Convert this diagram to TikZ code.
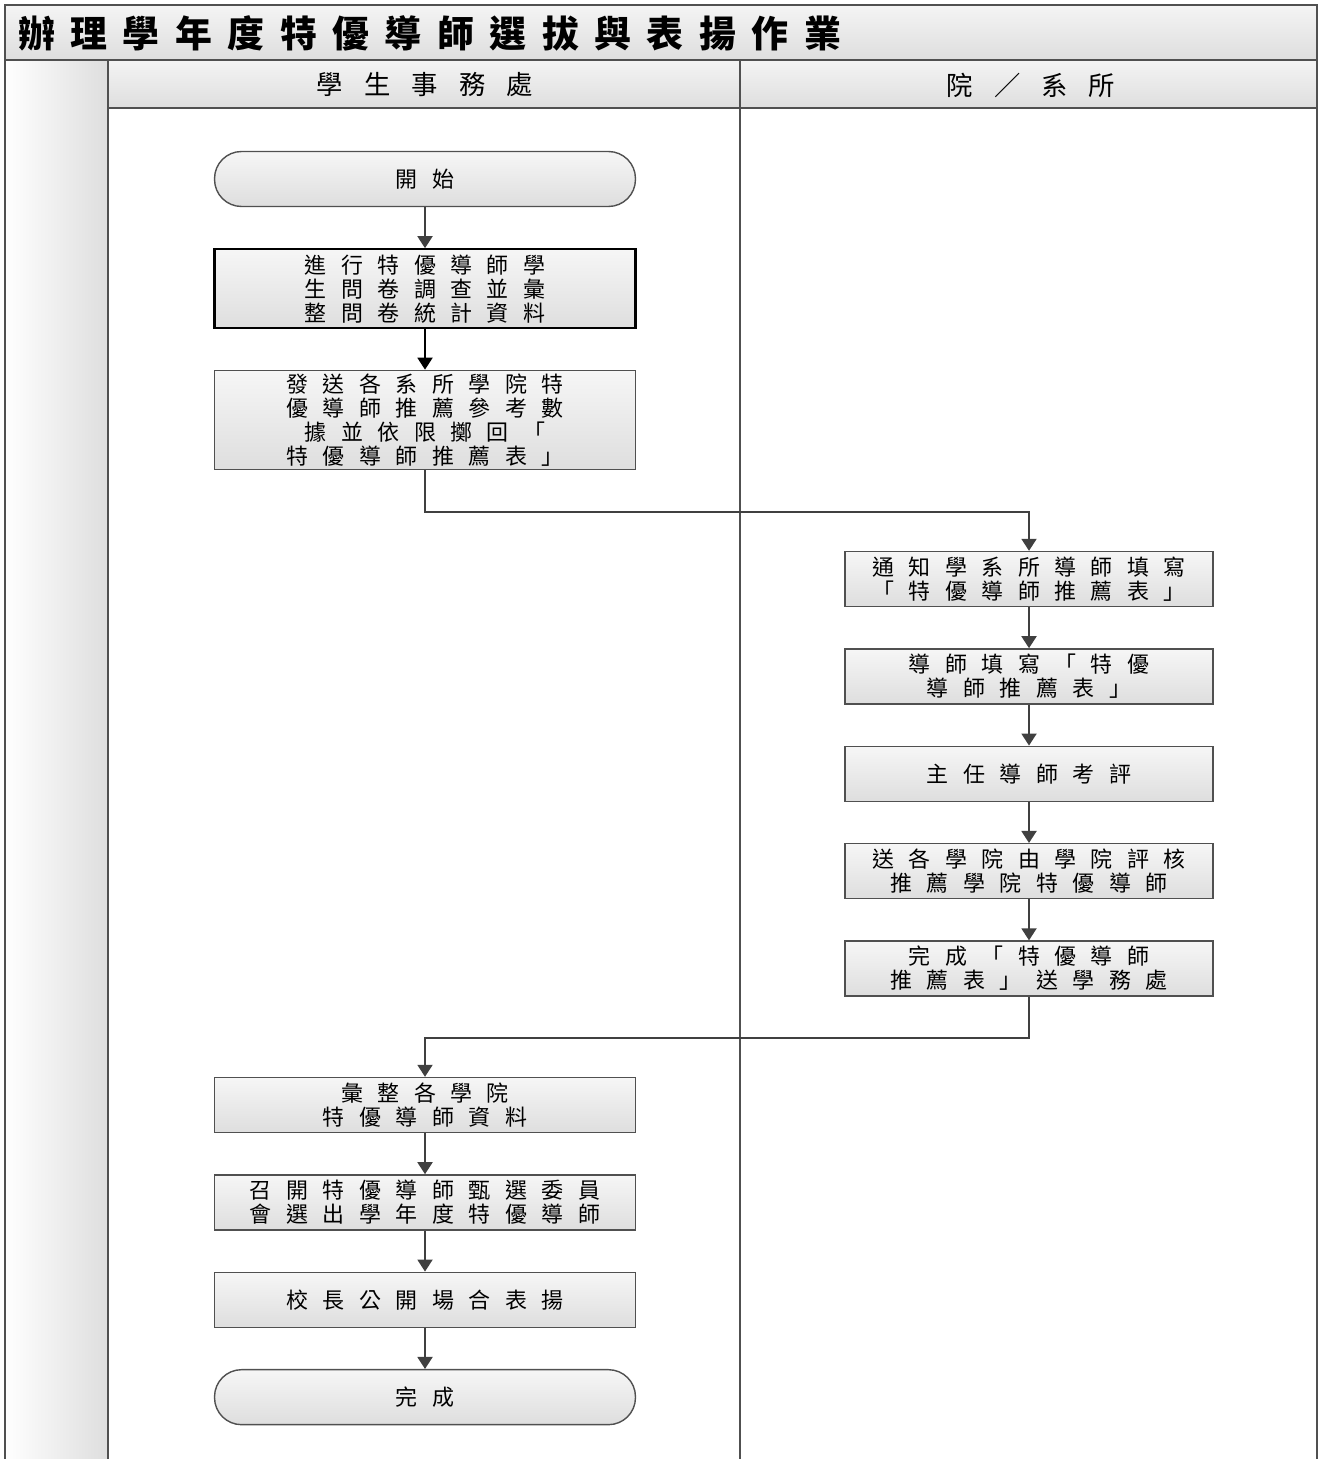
\documentclass[tikz,border=0pt]{standalone}
\usepackage{fontspec}
\setmainfont{Noto Sans CJK TC}
\newfontfamily\boxfont[LetterSpace=66]{Noto Sans CJK TC}
\newfontfamily\headfont[LetterSpace=80]{Noto Sans CJK TC}
\newfontfamily\titlefont[LetterSpace=42]{Noto Sans CJK TC}
\usepackage{tikz}
\usetikzlibrary{arrows.meta, positioning}
\definecolor{framecol}{RGB}{80, 80, 80}
\definecolor{linecol}{RGB}{64, 64, 64}
\definecolor{boxtop}{RGB}{246, 246, 246}
\definecolor{boxbot}{RGB}{222, 222, 222}
\definecolor{lanetop}{RGB}{244, 244, 244}
\definecolor{lanebot}{RGB}{222, 222, 222}

\begin{document}
\begin{tikzpicture}[
        x=0.02cm, y=-0.02cm,
        node distance=0.82cm,
        box/.style={rectangle, draw=framecol, line width=0.8pt, top color=boxtop, bottom color=boxbot, align=center, minimum width=8.42cm, minimum height=1.1cm, inner sep=2pt, font=\boxfont\fontsize{12.5}{13.6}\selectfont},
        rbox/.style={box, minimum width=7.36cm},
        term/.style={box, rounded corners=0.54cm},
        lanehead/.style={font=\headfont\fontsize{15}{16}\selectfont},
        arrow/.style={-{Triangle[length=0.24cm, width=0.3cm]}, line width=1.1pt, draw=linecol}
    ]
    \useasboundingbox (0,0) rectangle (1320,1459);

    % Swimlane frame
    \shade[left color=white, right color=lanebot] (5,60) rectangle (108,1459);
    \draw[draw=framecol, line width=1.2pt, top color=lanetop, bottom color=lanebot] (5,5) rectangle (1317,60);
    \draw[draw=framecol, line width=1.2pt, top color=lanetop, bottom color=lanebot] (108,60) rectangle (740,108);
    \draw[draw=framecol, line width=1.2pt, top color=lanetop, bottom color=lanebot] (740,60) rectangle (1317,108);
    \draw[framecol, line width=1.2pt] (5,60) -- (5,1459);
    \draw[framecol, line width=1.2pt] (108,108) -- (108,1459);
    \draw[framecol, line width=1.2pt] (740,108) -- (740,1459);
    \draw[framecol, line width=1.2pt] (1317,108) -- (1317,1459);

    \node[anchor=west, font=\titlefont\bfseries\fontsize{21}{23}\selectfont] (title) at (12,33) {辦理學年度特優導師選拔與表揚作業};
    \node[lanehead] (osa) at (425,85) {學生事務處};
    \node[lanehead] (dept) at (1031,85) {院／系所};

    % Student affairs lane
    \node[term] (start) at (425,179) {開始};
    \node[box, below=of start, minimum height=1.58cm, draw=black, line width=1.3pt] (survey) {進行特優導師學\\生問卷調查並彙\\整問卷統計資料};
    \node[box, minimum height=1.94cm] (sendref) at (425,420) {發送各系所學院特\\優導師推薦參考數\\據並依限擲回「\\特優導師推薦表」};

    % College / department lane
    \node[rbox] (notify) at (1029,579) {通知學系所導師填寫\\「特優導師推薦表」};
    \node[rbox, below=of notify] (fillform) {導師填寫「特優\\導師推薦表」};
    \node[rbox, below=of fillform] (review) {主任導師考評};
    \node[rbox, below=of review] (college) {送各學院由學院評核\\推薦學院特優導師};
    \node[rbox, below=of college] (submit) {完成「特優導師\\推薦表」送學務處};

    % Back to student affairs
    \node[box] (collect) at (425,1105) {彙整各學院\\特優導師資料};
    \node[box, below=of collect] (committee) {召開特優導師甄選委員\\會選出學年度特優導師};
    \node[box, below=of committee] (praise) {校長公開場合表揚};
    \node[term, below=of praise] (finish) {完成};

    % Arrows
    \draw[arrow] (start) -- (survey);
    \draw[arrow, draw=black] (survey) -- (sendref);
    \draw[arrow] (sendref.south) -- ++(0,42) -| (notify.north);
    \draw[arrow] (notify) -- (fillform);
    \draw[arrow] (fillform) -- (review);
    \draw[arrow] (review) -- (college);
    \draw[arrow] (college) -- (submit);
    \draw[arrow] (submit.south) -- ++(0,41) -| (collect.north);
    \draw[arrow] (collect) -- (committee);
    \draw[arrow] (committee) -- (praise);
    \draw[arrow] (praise) -- (finish);

\end{tikzpicture}
\end{document}
